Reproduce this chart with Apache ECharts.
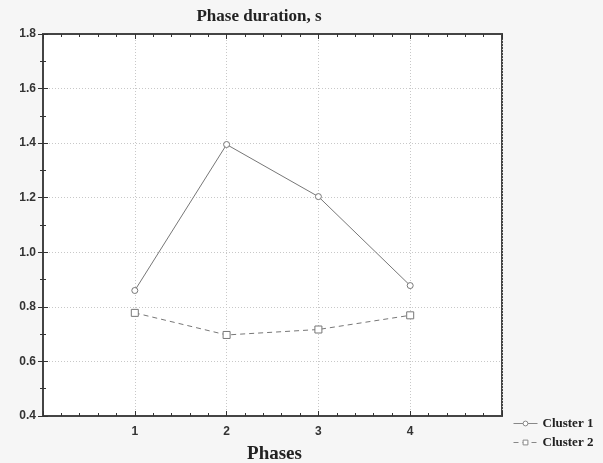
<!DOCTYPE html>
<html>
<head>
<meta charset="utf-8">
<script src="https://cdn.jsdelivr.net/npm/echarts@6/dist/echarts.min.js"></script>
<style>
  html, body { margin: 0; padding: 0; background: #f6f6f6; }
  #main { width: 603px; height: 463px; }
</style>
</head>
<body>
<div id="main"></div>
<script>
// data
const phases = [1, 2, 3, 4];
const cluster1 = [0.86, 1.395, 1.204, 0.878];
const cluster2 = [0.778, 0.697, 0.717, 0.769];
const seriesNames = ["Cluster 1", "Cluster 2"];

const toPoints = (vals) => vals.map((v, i) => [phases[i], v]);

const chart = echarts.init(document.getElementById("main"));

const tickStyle = { show: true, inside: true, length: 5, lineStyle: { color: "#333", width: 1 } };
const minorStyle = { show: true, splitNumber: 5, length: 3, lineStyle: { color: "#333", width: 1 } };
const gridLine = { show: true, lineStyle: { color: "#c8c8c8", type: [1, 2], width: 1 } };

const option = {
  backgroundColor: "#f6f6f6",
  animation: false,
  title: {
    text: "Phase duration, s",
    left: 254,
    textAlign: "center",
    top: 3,
    textStyle: { fontFamily: "Liberation Serif", fontWeight: "bold", fontSize: 17, color: "#222" }
  },
  legend: {
    orient: "vertical",
    left: 508,
    top: 412,
    itemWidth: 24,
    itemHeight: 6,
    itemGap: 6,
    lineStyle: { width: 1, color: "#888" },
    itemStyle: { borderWidth: 1, borderColor: "#888", color: "#fff" },
    textStyle: { fontFamily: "Liberation Serif", fontWeight: "bold", fontSize: 13, color: "#222" },
    data: seriesNames
  },
  grid: {
    left: 43, right: 101, top: 34, bottom: 47,
    containLabel: false, outerBoundsMode: "none",
    show: true, backgroundColor: "#fff", borderColor: "#444", borderWidth: 2
  },
  xAxis: [
    {
      type: "value", min: 0, max: 5, interval: 1,
      name: "Phases", nameLocation: "middle", nameGap: 29,
      nameTextStyle: { fontFamily: "Liberation Serif", fontWeight: "bold", fontSize: 19, color: "#222", padding: [0, 0, 0, 4] },
      axisLine: { show: true, lineStyle: { color: "#444", width: 2 } },
      axisTick: tickStyle, minorTick: minorStyle,
      splitLine: gridLine,
      axisLabel: {
        margin: 10,
        fontFamily: "Liberation Sans", fontWeight: "bold", fontSize: 12, color: "#333",
        formatter: (v) => (v >= 1 && v <= 4 ? String(v) : "")
      }
    },
    {
      type: "value", position: "top", min: 0, max: 5, interval: 1,
      axisLine: { show: true, lineStyle: { color: "#444", width: 2 } },
      axisTick: tickStyle, minorTick: minorStyle,
      splitLine: { show: false }, axisLabel: { show: false }
    }
  ],
  yAxis: [
    {
      type: "value", min: 0.4, max: 1.8, interval: 0.2,
      axisLine: { show: true, lineStyle: { color: "#444", width: 2 } },
      axisTick: tickStyle, minorTick: Object.assign({}, minorStyle, { splitNumber: 2 }),
      splitLine: gridLine,
      axisLabel: {
        margin: 7,
        fontFamily: "Liberation Sans", fontWeight: "bold", fontSize: 12, color: "#333",
        formatter: (v) => v.toFixed(1)
      }
    },
    {
      type: "value", position: "right", min: 0.4, max: 1.8, interval: 0.2,
      axisLine: { show: true, lineStyle: { color: "#444", width: 2 } },
      axisTick: tickStyle, minorTick: Object.assign({}, minorStyle, { splitNumber: 2 }),
      splitLine: { show: false }, axisLabel: { show: false }
    }
  ],
  series: [
    {
      name: seriesNames[0], type: "line", data: toPoints(cluster1),
      symbol: "circle", symbolSize: 6,
      lineStyle: { color: "#777", width: 1 },
      itemStyle: { color: "#fff", borderColor: "#777", borderWidth: 1 }
    },
    {
      name: seriesNames[1], type: "line", data: toPoints(cluster2),
      symbol: "rect", symbolSize: 7,
      lineStyle: { color: "#777", width: 1, type: [5, 4] },
      itemStyle: { color: "#fff", borderColor: "#777", borderWidth: 1 }
    }
  ]
};

chart.setOption(option);
</script>
</body>
</html>
